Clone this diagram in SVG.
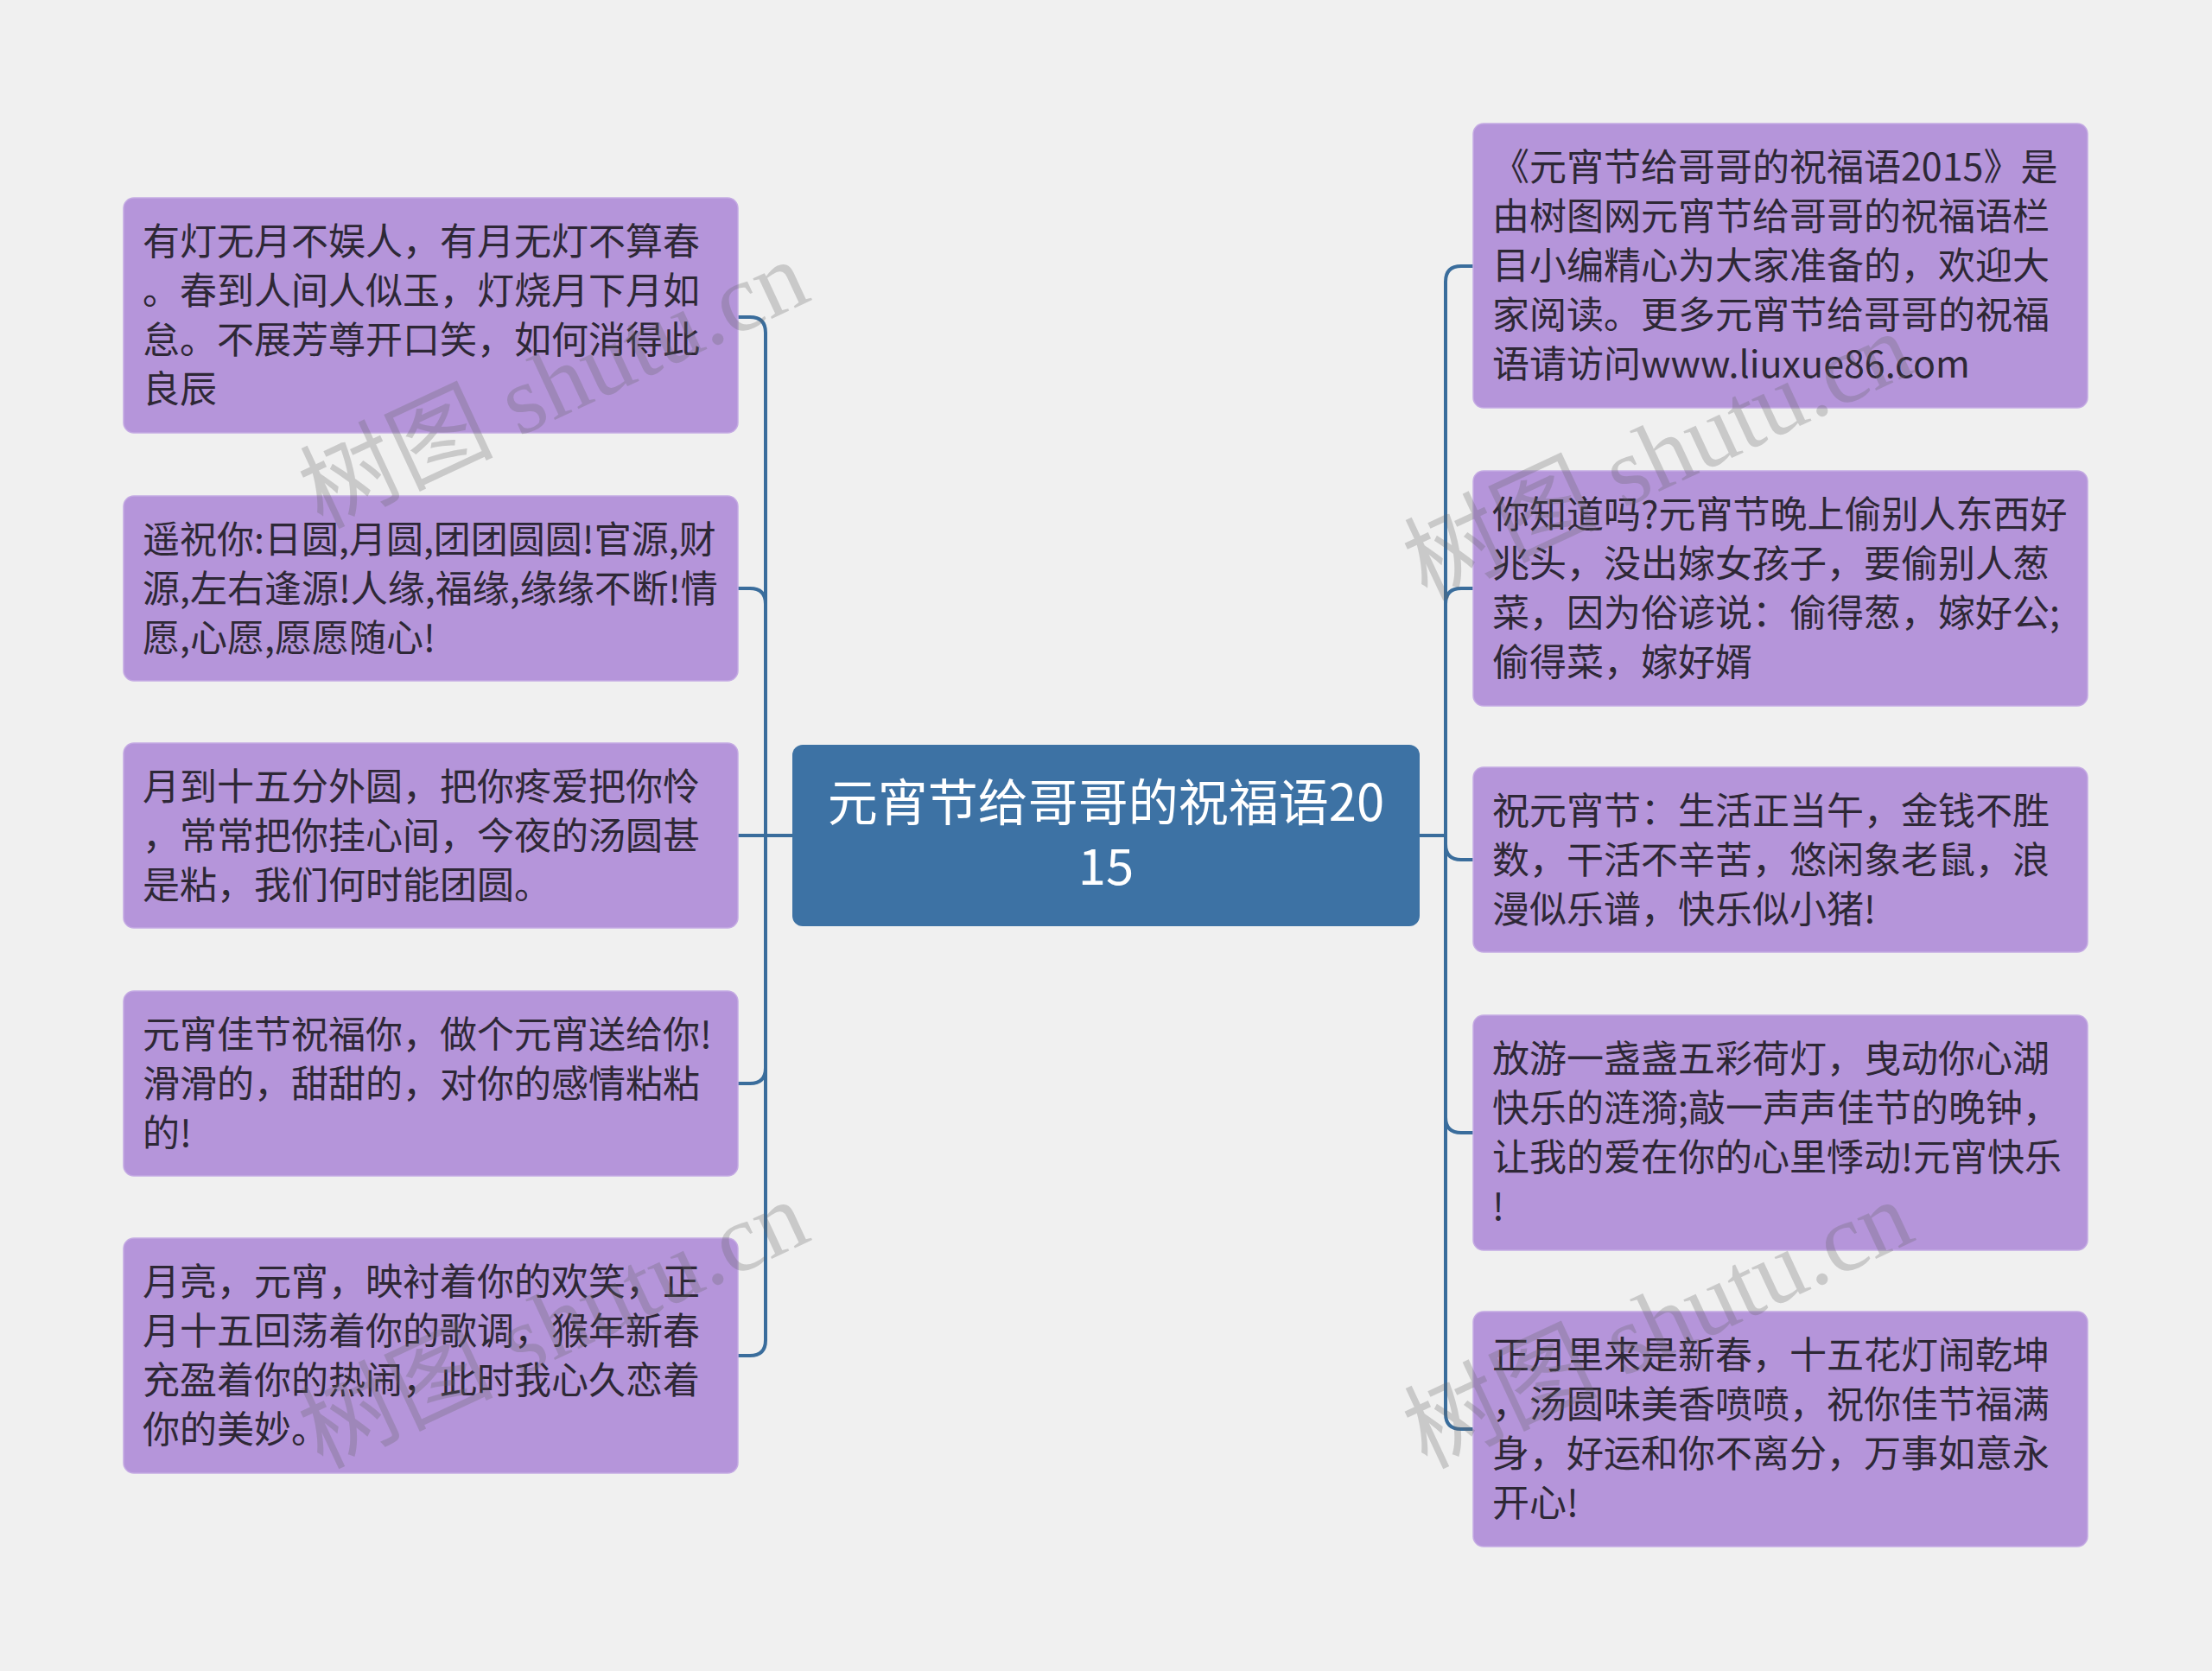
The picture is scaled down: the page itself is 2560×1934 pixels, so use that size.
<svg xmlns="http://www.w3.org/2000/svg" width="2560" height="1934" viewBox="0 0 2560 1934">
<style>
.bg{fill:#f0f0f0}
.node rect{fill:#b595da;stroke:#c4aae3;stroke-width:1.5}
.node text{font-family:"Noto Sans CJK SC","Noto Sans",sans-serif;font-size:43px;fill:#2e2836}
.root rect{fill:#3d72a4;stroke:none}
.root text{font-family:"Noto Sans CJK SC","Noto Sans",sans-serif;font-size:58px;fill:#ffffff;text-anchor:middle}
.links path{fill:none;stroke:#3a6d9c;stroke-width:4;stroke-linejoin:round}
.wm{font-family:"Liberation Serif","Noto Sans CJK SC",serif;font-size:112px;fill:#646464;fill-opacity:0.28}
</style>
<rect class="bg" x="0" y="0" width="2560" height="1934"/>
<g class="links" id="connectors">
<path d="M917 967 H886 V385 Q886 367 868 367 H854"/>
<path d="M917 967 H886 V699 Q886 681 868 681 H854"/>
<path d="M917 967 H854"/>
<path d="M917 967 H886 V1236 Q886 1254 868 1254 H854"/>
<path d="M917 967 H886 V1551 Q886 1569 868 1569 H854"/>
<path d="M1643 967 H1673 V326 Q1673 308 1691 308 H1705"/>
<path d="M1643 967 H1673 V699 Q1673 681 1691 681 H1705"/>
<path d="M1643 967 H1673 V977 Q1673 995 1691 995 H1705"/>
<path d="M1643 967 H1673 V1293 Q1673 1311 1691 1311 H1705"/>
<path d="M1643 967 H1673 V1636 Q1673 1654 1691 1654 H1705"/>
</g>
<g class="root" id="root">
<rect x="917" y="862" width="726" height="210" rx="12"/>
<text x="1280" y="950">元宵节给哥哥的祝福语20</text>
<text x="1280" y="1024">15</text>
</g>
<g class="node" id="L1">
<rect x="143" y="229" width="711" height="272" rx="12"/>
<text x="165" y="295">有灯无月不娱人，有月无灯不算春</text>
<text x="165" y="352">。春到人间人似玉，灯烧月下月如</text>
<text x="165" y="409">怠。不展芳尊开口笑，如何消得此</text>
<text x="165" y="466">良辰</text>
</g>
<g class="node" id="L2">
<rect x="143" y="574" width="711" height="214" rx="12"/>
<text x="165" y="640">遥祝你:日圆,月圆,团团圆圆!官源,财</text>
<text x="165" y="697">源,左右逢源!人缘,福缘,缘缘不断!情</text>
<text x="165" y="754">愿,心愿,愿愿随心!</text>
</g>
<g class="node" id="L3">
<rect x="143" y="860" width="711" height="214" rx="12"/>
<text x="165" y="926">月到十五分外圆，把你疼爱把你怜</text>
<text x="165" y="983">，常常把你挂心间，今夜的汤圆甚</text>
<text x="165" y="1040">是粘，我们何时能团圆。</text>
</g>
<g class="node" id="L4">
<rect x="143" y="1147" width="711" height="214" rx="12"/>
<text x="165" y="1213">元宵佳节祝福你，做个元宵送给你!</text>
<text x="165" y="1270">滑滑的，甜甜的，对你的感情粘粘</text>
<text x="165" y="1327">的!</text>
</g>
<g class="node" id="L5">
<rect x="143" y="1433" width="711" height="272" rx="12"/>
<text x="165" y="1499">月亮，元宵，映衬着你的欢笑，正</text>
<text x="165" y="1556">月十五回荡着你的歌调，猴年新春</text>
<text x="165" y="1613">充盈着你的热闹，此时我心久恋着</text>
<text x="165" y="1670">你的美妙。</text>
</g>
<g class="node" id="R1">
<rect x="1705" y="143" width="711" height="329" rx="12"/>
<text x="1727" y="209">《元宵节给哥哥的祝福语2015》是</text>
<text x="1727" y="266">由树图网元宵节给哥哥的祝福语栏</text>
<text x="1727" y="323">目小编精心为大家准备的，欢迎大</text>
<text x="1727" y="380">家阅读。更多元宵节给哥哥的祝福</text>
<text x="1727" y="437">语请访问www.liuxue86.com</text>
</g>
<g class="node" id="R2">
<rect x="1705" y="545" width="711" height="272" rx="12"/>
<text x="1727" y="611">你知道吗?元宵节晚上偷别人东西好</text>
<text x="1727" y="668">兆头，没出嫁女孩子，要偷别人葱</text>
<text x="1727" y="725">菜，因为俗谚说：偷得葱，嫁好公;</text>
<text x="1727" y="782">偷得菜，嫁好婿</text>
</g>
<g class="node" id="R3">
<rect x="1705" y="888" width="711" height="214" rx="12"/>
<text x="1727" y="954">祝元宵节：生活正当午，金钱不胜</text>
<text x="1727" y="1011">数，干活不辛苦，悠闲象老鼠，浪</text>
<text x="1727" y="1068">漫似乐谱，快乐似小猪!</text>
</g>
<g class="node" id="R4">
<rect x="1705" y="1175" width="711" height="272" rx="12"/>
<text x="1727" y="1241">放游一盏盏五彩荷灯，曳动你心湖</text>
<text x="1727" y="1298">快乐的涟漪;敲一声声佳节的晚钟，</text>
<text x="1727" y="1355">让我的爱在你的心里悸动!元宵快乐</text>
<text x="1727" y="1412">!</text>
</g>
<g class="node" id="R5">
<rect x="1705" y="1518" width="711" height="272" rx="12"/>
<text x="1727" y="1584">正月里来是新春，十五花灯闹乾坤</text>
<text x="1727" y="1641">，汤圆味美香喷喷，祝你佳节福满</text>
<text x="1727" y="1698">身，好运和你不离分，万事如意永</text>
<text x="1727" y="1755">开心!</text>
</g>
<g id="watermarks">
<text class="wm" x="0" y="0" transform="translate(372,612) rotate(-25)">树图 shutu.cn</text>
<text class="wm" x="0" y="0" transform="translate(372,1700) rotate(-25)">树图 shutu.cn</text>
<text class="wm" x="0" y="0" transform="translate(1650,695) rotate(-25)">树图 shutu.cn</text>
<text class="wm" x="0" y="0" transform="translate(1650,1700) rotate(-25)">树图 shutu.cn</text>
</g>
</svg>
